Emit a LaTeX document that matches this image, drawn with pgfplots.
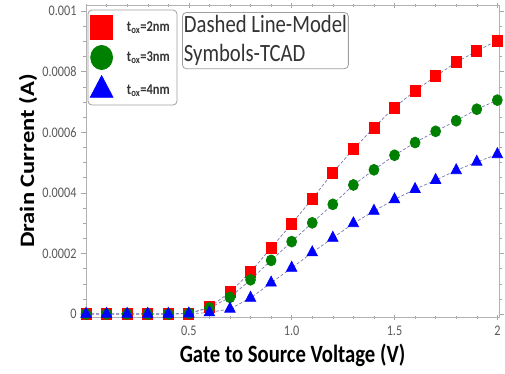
\documentclass[border=0pt]{standalone}
\usepackage{pgfplots}
\pgfplotsset{compat=1.18}
\usepackage{fontspec}
\setmainfont{Carlito}
\definecolor{lin}{RGB}{120,120,175}
\definecolor{myred}{RGB}{255,0,0}
\definecolor{mygreen}{RGB}{0,128,0}
\definecolor{myblue}{RGB}{0,0,255}
\newcommand{\tox}[1]{\scalebox{1}[1.2]{t\textsubscript{ox}=#1nm}}
\begin{document}
\begin{tikzpicture}
\begin{axis}[
  scale only axis,
  width=413pt, height=312pt,
  at={(0,0)}, anchor=south west,
  xmin=0, xmax=2.008,
  ymin=-0.0000099, ymax=0.00102,
  xtick={0.5,1,1.5,2},
  xticklabels={0.5,1.0,1.5,2},
  minor xtick={0,0.1,0.2,0.3,0.4,0.6,0.7,0.8,0.9,1.1,1.2,1.3,1.4,1.6,1.7,1.8,1.9},
  ytick={0,0.0002,0.0004,0.0006,0.0008,0.001},
  yticklabels={0,0.0002,0.0004,0.0006,0.0008,0.001},
  minor ytick={0.00005,0.0001,0.00015,0.00025,0.0003,0.00035,0.00045,0.0005,0.00055,0.00065,0.0007,0.00075,0.00085,0.0009,0.00095},
  scaled y ticks=false,
  axis line style={gray!60},
  every tick/.style={gray!70},
  major tick length=5pt, minor tick length=3pt,
  xtick align=center,
  ytick align=outside,
  tick label style={font=\fontsize{12.2}{14}\selectfont, text=black!65, yscale=1.2},
  xticklabel style={yshift=-2pt},
  yticklabel style={xshift=-1pt},
  every axis x label/.style={at={(axis description cs:0.5,0)}, anchor=north, yshift=-27pt, inner sep=0pt, font=\bfseries\fontsize{20.7}{24}\selectfont, yscale=1.2},
  every axis y label/.style={at={(axis description cs:0,0.5)}, xshift=-58pt, rotate=90, xscale=1.2, anchor=center, inner sep=0pt, font=\bfseries\fontsize{20.5}{24}\selectfont},
  xlabel={Gate to Source Voltage (V)},
  ylabel={Drain Current (A)},
  legend image code/.code={\path (0pt,-11pt) (34pt,11pt); \draw[#1, /tikz/every mark/.append style={scale=2.2}] plot coordinates {(11pt,0pt)};},
  legend style={at={(rel axis cs:0,1)}, xshift=2pt, yshift=-8pt, anchor=north west,
    draw=none, fill=none, row sep=6pt, inner xsep=2pt, inner ysep=2pt,
    font=\bfseries\fontsize{12.5}{14}\selectfont, text=black!80},
  legend cell align=left,
]
\draw[gray!75, line width=0.8pt, rounded corners=4pt, fill=white]
  ([xshift=2pt,yshift=-5pt]rel axis cs:0,1) rectangle ([xshift=91pt,yshift=-100pt]rel axis cs:0,1);
\addplot[lin, line width=0.7pt, dash pattern=on 3pt off 2pt, mark=square*, mark size=5pt,
  mark options={solid, fill=myred, draw=myred, yscale=1.1}]
  coordinates {
  (0,0) (0.1,0) (0.2,0) (0.3,0) (0.4,0) (0.5,0.000002) (0.6,0.000022) (0.7,0.000072)
  (0.8,0.000139) (0.9,0.000218) (1.0,0.000298) (1.1,0.00038) (1.2,0.000467) (1.3,0.000544)
  (1.4,0.000616) (1.5,0.000682) (1.6,0.000737) (1.7,0.000785) (1.8,0.000831) (1.9,0.000868) (2.0,0.000903)};
\addlegendentry{\tox{2}}
\addplot[lin, line width=0.7pt, dash pattern=on 3pt off 2pt, mark=*, mark size=5pt,
  mark options={solid, fill=mygreen, draw=mygreen, yscale=1.1}]
  coordinates {
  (0,0) (0.1,0) (0.2,0) (0.3,0) (0.4,0) (0.5,0.000002) (0.6,0.00002) (0.7,0.000055)
  (0.8,0.000113) (0.9,0.000177) (1.0,0.000239) (1.1,0.000301) (1.2,0.000362) (1.3,0.000426)
  (1.4,0.000476) (1.5,0.000524) (1.6,0.000566) (1.7,0.000603) (1.8,0.000638) (1.9,0.000676) (2.0,0.000706)};
\addlegendentry{\tox{3}}
\addplot[lin, line width=0.7pt, dash pattern=on 3pt off 2pt, mark=triangle*, mark size=6pt,
  mark options={solid, fill=myblue, draw=myblue, yscale=1.1}]
  coordinates {
  (0,0) (0.1,0) (0.2,0) (0.3,0) (0.4,0) (0.5,0.000001) (0.6,0.000005) (0.7,0.000017)
  (0.8,0.000053) (0.9,0.000103) (1.0,0.000152) (1.1,0.000203) (1.2,0.000251) (1.3,0.000299)
  (1.4,0.00034) (1.5,0.000378) (1.6,0.000412) (1.7,0.000442) (1.8,0.000474) (1.9,0.000502) (2.0,0.000527)};
\addlegendentry{\tox{4}}
\node[anchor=north west, xshift=96pt, yshift=-7pt, yscale=1.2, draw=gray!75, line width=0.8pt, rounded corners=4pt,
  align=left, inner xsep=1.5pt, inner ysep=2.5pt, text=black!80,
  font=\fontsize{20.7}{24.2}\selectfont] at (rel axis cs:0,1) {Dashed Line-Model\\Symbols-TCAD};
\end{axis}
\pgfresetboundingbox
\path (-86pt,-56pt) rectangle (419pt,317pt);
\end{tikzpicture}
\end{document}
